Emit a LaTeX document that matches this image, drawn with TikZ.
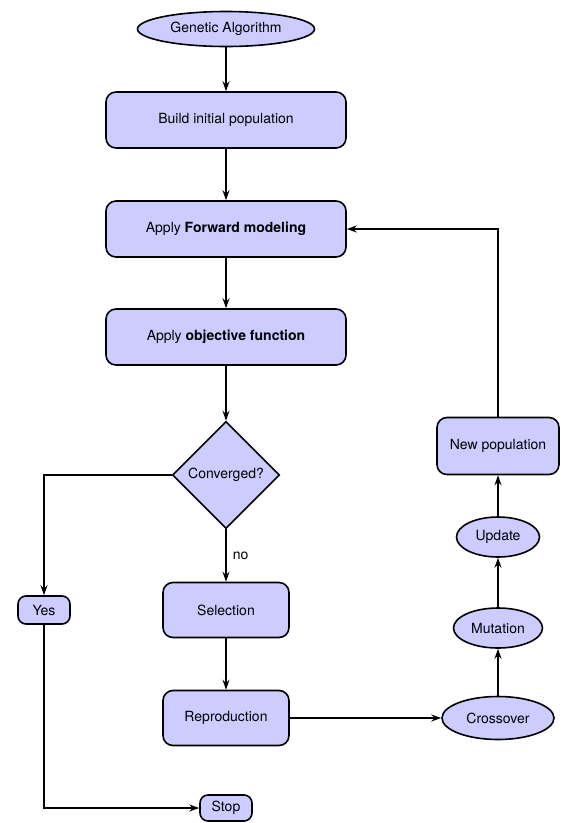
\documentclass[tikz,border=0pt]{standalone}
\usepackage{fontspec}
\setmainfont{TeX Gyre Heros}
\usetikzlibrary{shapes.geometric,arrows.meta}
\definecolor{nodefill}{RGB}{204,204,255}
\begin{document}
\begin{tikzpicture}[x=1pt,y=1pt,
  font=\fontsize{14}{16}\selectfont,
  base/.style={draw=black,line width=1.6pt,fill=nodefill,inner sep=2pt},
  box/.style={base,rectangle,rounded corners=10pt},
  oval/.style={base,ellipse,inner sep=0pt},
  conn/.style={line width=1.6pt,-{Stealth[length=10pt,width=7pt]}},
  line/.style={line width=1.6pt}]
\useasboundingbox (0,0) rectangle (563,-823);
\node[oval,minimum width=177pt,minimum height=35pt] (ga) at (226,-29) {Genetic Algorithm};
\node[box,minimum width=240pt,minimum height=56pt] (build) at (226,-120) {Build initial population};
\node[box,minimum width=240pt,minimum height=56pt] (fwd) at (226,-229) {Apply \textbf{Forward modeling}};
\node[box,minimum width=240pt,minimum height=56pt] (obj) at (226,-337) {Apply \textbf{objective function}};
\node[base,diamond,aspect=1,inner sep=1pt,minimum width=107pt,minimum height=107pt] (conv) at (226,-475) {Converged?};
\node[box,minimum width=126pt,minimum height=55pt] (sel) at (226,-610) {Selection};
\node[box,minimum width=126pt,minimum height=55pt] (rep) at (226,-718) {Reproduction};
\node[box,rounded corners=8pt,minimum width=52pt,minimum height=28pt] (yes) at (44,-610) {Yes};
\node[box,rounded corners=8pt,minimum width=52pt,minimum height=26pt] (stop) at (226,-808) {Stop};
\node[oval,minimum width=112pt,minimum height=43pt] (cross) at (498,-718) {Crossover};
\node[oval,minimum width=89pt,minimum height=40pt] (mut) at (498,-628) {Mutation};
\node[oval,minimum width=83pt,minimum height=40pt] (upd) at (498,-537) {Update};
\node[box,minimum width=122pt,minimum height=57pt] (newp) at (498,-446) {New population};
\draw[conn] (ga) -- (build);
\draw[conn] (build) -- (fwd);
\draw[conn] (fwd) -- (obj);
\draw[conn] (obj) -- (conv);
\draw[conn] (conv) -- node[right,inner sep=6pt] (nolab) {no} (sel);
\draw[conn] (sel) -- (rep);
\draw[conn] (conv.west) -| (yes.north);
\draw[conn] (yes.south) |- (stop.west);
\draw[conn] (rep) -- (cross);
\draw[conn] (cross) -- (mut);
\draw[conn] (mut) -- (upd);
\draw[conn] (upd) -- (newp);
\draw[conn] (newp.north) |- (fwd.east);
\end{tikzpicture}
\end{document}
